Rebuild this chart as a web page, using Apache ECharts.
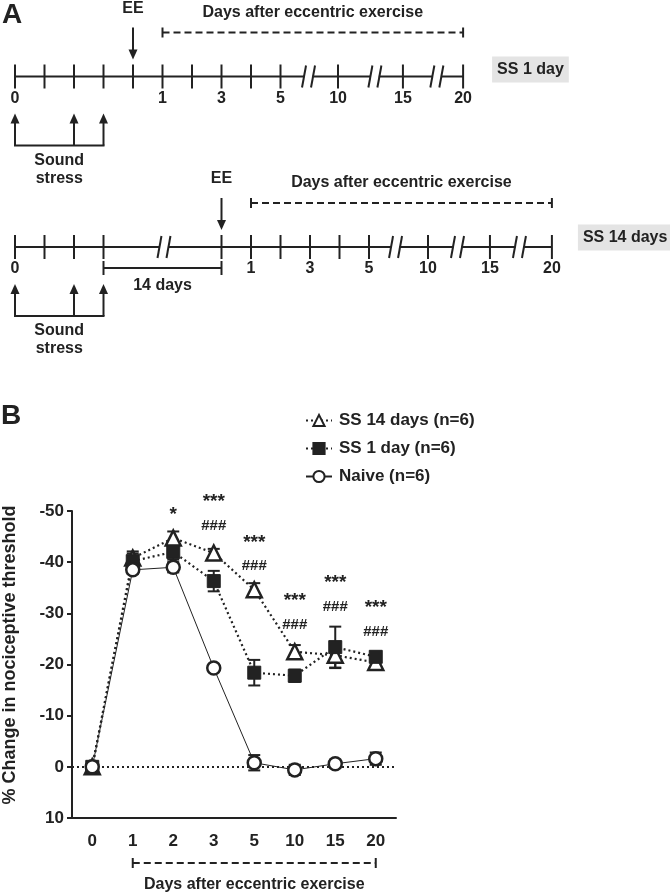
<!DOCTYPE html>
<html><head><meta charset="utf-8">
<script src="https://cdn.jsdelivr.net/npm/echarts@6/dist/echarts.min.js"></script>
<style>html,body{margin:0;padding:0;background:#fff}#main{width:670px;height:894px}</style>
</head><body><div id="main"></div>
<script>
const FONT = '"Liberation Sans", Arial, Helvetica, sans-serif';
const INK = '#222';

// ---------- Panel B data ----------
const days = ['0', '1', '2', '3', '5', '10', '15', '20'];
const ss14Mean = [0, -40.8, -44.7, -41.8, -34.6, -22.5, -21.8, -20.4];
const ss14Err  = [0.8, 1.3, 1.3, 0.8, 1.3, 1.3, 2.5, 0.8];
const ss1Mean  = [0, -40.2, -42.0, -36.3, -18.4, -17.8, -23.4, -21.5];
const ss1Err   = [0.8, 1.5, 1.5, 2.0, 2.5, 1.2, 4.0, 1.0];
const naiveMean = [0, -38.5, -39.0, -19.3, -0.8, 0.6, -0.6, -1.6];
const naiveErr  = [1.0, 0.8, 1.0, 0.7, 1.5, 1.0, 0.8, 1.2];
const starText = ['', '', '*', '***', '***', '***', '***', '***'];
const starPos  = [null, null, -50.0, -52.5, -44.5, -33.2, -36.7, -31.8];
const hashText = ['', '', '', '###', '###', '###', '###', '###'];
const hashPos  = [null, null, null, -47.0, -39.3, -27.7, -31.2, -26.4];
const zeroLine = [0];
const seriesNames = ['SS 14 days (n=6)', 'SS 1 day (n=6)', 'Naive (n=6)'];

// ---------- Panel A timeline layout (slot units) ----------
const tlLabels = ['0', '', '', '', '', '1', '', '3', '', '5', '10', '15', '20'];
const tl1Ticks = [0, 1, 2, 3, 4, 5, 6, 7, 8, 9, 10.95, 13.15, 15.19];
const tl1Breaks = [9.95, 12.2, 14.3];
const tl2Ticks = [0, 1, 2, 3, 7, 8, 9, 10, 11, 12, 14, 16.1, 18.2];
const tl2Breaks = [5.05, 12.9, 15.0, 17.1];
const stressSlots = [0, 2, 3];
const tlTags = ['SS 1 day', 'SS 14 days'];

const timelines = [
  {base: 76.5, ticks: tl1Ticks, breaks: tl1Breaks, ee: tl1Ticks[4], tag: tlTags[0], boxGap: 29, boxDy: -7, gapLabel: null},
  {base: 247, ticks: tl2Ticks, breaks: tl2Breaks, ee: tl2Ticks[4], tag: tlTags[1], boxGap: 26, boxDy: -9.5, gapLabel: '14 days'}
];

function renderTimeline(params, api) {
  const t = timelines[params.dataIndex];
  const X = s => api.coord([s, 0])[0];
  const by = api.coord([0, t.base])[1];
  const kids = [];
  const line = (x1, y1, x2, y2, extra) => kids.push({type: 'line', shape: {x1, y1, x2, y2},
    style: Object.assign({stroke: INK, lineWidth: 2}, extra || {})});
  const text = (x, y, s, extra) => kids.push({type: 'text', x, y,
    style: Object.assign({text: s, font: 'bold 16px ' + FONT, fill: INK, align: 'center', verticalAlign: 'middle'}, extra || {})});
  const tri = (x, tipY, dir) => kids.push({type: 'polygon',
    shape: {points: [[x, tipY], [x - 4.5, tipY - dir * 10], [x + 4.5, tipY - dir * 10]]}, style: {fill: INK}});
  const x0 = X(t.ticks[0]), xN = X(t.ticks[t.ticks.length - 1]);
  let cur = x0;
  t.breaks.forEach(b => {
    const cx = X(b);
    line(cur, by, cx - 4, by);
    cur = cx + 4;
    line(cx - 6.5, by + 11, cx - 2.5, by - 11);
    line(cx + 2.5, by + 11, cx + 6.5, by - 11);
  });
  line(cur, by, xN, by);
  t.ticks.forEach((s, i) => {
    const x = X(s);
    line(x, by - 12, x, by + 12);
    if (tlLabels[i]) text(x, by + 22, tlLabels[i]);
  });
  const xe = X(t.ee);
  text(xe, by - 68, 'EE');
  line(xe, by - 49, xe, by - 25);
  tri(xe, by - 17, 1);
  const xd1 = X(t.ticks[5]), yd = by - 44;
  line(xd1, yd, xN, yd, {lineDash: [7, 4]});
  line(xd1, yd - 5, xd1, yd + 5);
  line(xN, yd - 5, xN, yd + 5);
  text((xd1 + xN) / 2, by - 64, 'Days after eccentric exercise');
  text(xN + t.boxGap, by + t.boxDy, t.tag, {align: 'left', backgroundColor: '#e4e4e4', padding: [5, 5, 5, 5]});
  const ys = by + 69;
  stressSlots.forEach(s => { const x = X(s); line(x, ys, x, by + 45); tri(x, by + 37, -1); });
  const xs0 = X(stressSlots[0]), xs1 = X(stressSlots[stressSlots.length - 1]);
  line(xs0 - 1, ys, xs1 + 1, ys);
  text((xs0 + xs1) / 2, by + 84, 'Sound');
  text((xs0 + xs1) / 2, by + 102, 'stress');
  if (t.gapLabel) {
    const a = X(t.ticks[3]), yg = by + 21;
    line(a, yg, xe, yg); line(a, yg - 7, a, yg + 7); line(xe, yg - 7, xe, yg + 7);
    text((a + xe) / 2, by + 39, t.gapLabel);
  }
  return {type: 'group', children: kids};
}

function errorBars(means, errs) {
  return {
    type: 'custom', xAxisIndex: 0, yAxisIndex: 0, silent: true, z: 3,
    data: means.map((m, i) => [i, m - errs[i], m + errs[i]]),
    renderItem: (params, api) => {
      const i = api.value(0);
      const a = api.coord([i, api.value(1)]);
      const b = api.coord([i, api.value(2)]);
      const hw = 6;
      const st = {stroke: INK, lineWidth: 2};
      return {type: 'group', children: [
        {type: 'line', shape: {x1: a[0], y1: a[1], x2: b[0], y2: b[1]}, style: st},
        {type: 'line', shape: {x1: a[0] - hw, y1: a[1], x2: a[0] + hw, y2: a[1]}, style: st},
        {type: 'line', shape: {x1: b[0] - hw, y1: b[1], x2: b[0] + hw, y2: b[1]}, style: st}
      ]};
    }
  };
}

function annotations(texts, pos, size, dy) {
  const data = [];
  pos.forEach((p, i) => { if (p !== null) data.push([i, p]); });
  return {
    type: 'custom', xAxisIndex: 0, yAxisIndex: 0, silent: true, z: 5, clip: false,
    data: data,
    renderItem: (params, api) => {
      const i = api.value(0);
      const c = api.coord([i, api.value(1)]);
      return {type: 'text', x: c[0], y: c[1] + dy,
        style: {text: texts[i], font: 'bold ' + size + 'px ' + FONT, fill: INK, align: 'center', verticalAlign: 'middle'}};
    }
  };
}

const chart = echarts.init(document.getElementById('main'));
const option = {
  animation: false,
  backgroundColor: '#fff',
  grid: [
    {left: 72, top: 511, width: 324, height: 307},
    {left: 15, top: 0, width: 590, height: 310}
  ],
  xAxis: [
    {type: 'category', gridIndex: 0, data: days, boundaryGap: true, position: 'bottom',
     axisLine: {onZero: false, lineStyle: {color: INK, width: 2}},
     axisTick: {alignWithLabel: true, length: 4, lineStyle: {color: INK, width: 2}},
     axisLabel: {color: INK, fontWeight: 'bold', fontSize: 17, fontFamily: FONT, margin: 15}},
    {type: 'value', gridIndex: 1, min: 0, max: 20, show: false}
  ],
  yAxis: [
    {type: 'value', gridIndex: 0, inverse: true, min: -50, max: 10, interval: 10,
     axisLine: {show: true, onZero: false, lineStyle: {color: INK, width: 2}},
     axisTick: {show: true, length: 5, lineStyle: {color: INK, width: 2}},
     splitLine: {show: false},
     axisLabel: {color: INK, fontWeight: 'bold', fontSize: 17, fontFamily: FONT, margin: 8}},
    {type: 'value', gridIndex: 1, min: 0, max: 310, inverse: true, show: false}
  ],
  legend: {
    data: seriesNames, orient: 'vertical', left: 300, top: 407, itemWidth: 26, itemHeight: 14, itemGap: 11,
    textStyle: {color: INK, fontWeight: 'bold', fontSize: 17, fontFamily: FONT, padding: [0, 0, 0, 2]}
  },
  graphic: [
    {type: 'text', left: 2, top: 1, style: {text: 'A', font: 'bold 28px ' + FONT, fill: INK}},
    {type: 'text', left: 1, top: 402, style: {text: 'B', font: 'bold 28px ' + FONT, fill: INK}},
    {type: 'text', x: 10, y: 655, rotation: Math.PI / 2,
     style: {text: '% Change in nociceptive threshold', font: 'bold 18px ' + FONT, fill: INK, align: 'center', verticalAlign: 'middle'}}
  ],
  series: [
    {type: 'custom', xAxisIndex: 0, yAxisIndex: 0, silent: true, z: 1, data: zeroLine.map(v => [v]),
     renderItem: (params, api) => {
       const v = api.value(0);
       const a = api.coord([0, v]);
       const cs = params.coordSys;
       const y = Math.round(a[1]);
       return {type: 'line', shape: {x1: cs.x, y1: y, x2: cs.x + cs.width, y2: y},
         style: {stroke: INK, lineWidth: 2, lineDash: [2, 3]}};
     }},
    errorBars(ss14Mean, ss14Err),
    {name: seriesNames[0], type: 'line', data: ss14Mean, z: 3, symbol: 'triangle', symbolSize: 15,
     itemStyle: {color: '#fff', borderColor: INK, borderWidth: 2.5},
     lineStyle: {color: INK, width: 2.2, type: [2, 3]}},
    errorBars(ss1Mean, ss1Err),
    {name: seriesNames[1], type: 'line', data: ss1Mean, z: 3, symbol: 'rect', symbolSize: 13,
     itemStyle: {color: INK, borderColor: INK, borderWidth: 1},
     lineStyle: {color: INK, width: 2.2, type: [2, 3]}},
    errorBars(naiveMean, naiveErr),
    {name: seriesNames[2], type: 'line', data: naiveMean, z: 3, symbol: 'circle', symbolSize: 13,
     itemStyle: {color: '#fff', borderColor: INK, borderWidth: 2.5},
     lineStyle: {color: INK, width: 1}},
    annotations(starText, starPos, 19, 4),
    annotations(hashText, hashPos, 15, 0),
    {type: 'custom', xAxisIndex: 0, yAxisIndex: 0, silent: true, clip: false, data: [[1, 7]],
     renderItem: (params, api) => {
       const a = api.coord([api.value(0), 10]);
       const b = api.coord([api.value(1), 10]);
       const y = a[1] + 45;
       const st = {stroke: INK, lineWidth: 2};
       return {type: 'group', children: [
         {type: 'line', shape: {x1: a[0], y1: y, x2: b[0], y2: y}, style: {stroke: INK, lineWidth: 2, lineDash: [7, 4]}},
         {type: 'line', shape: {x1: a[0], y1: y - 5, x2: a[0], y2: y + 5}, style: st},
         {type: 'line', shape: {x1: b[0], y1: y - 5, x2: b[0], y2: y + 5}, style: st},
         {type: 'text', x: (a[0] + b[0]) / 2, y: y + 22,
          style: {text: 'Days after eccentric exercise', font: 'bold 16px ' + FONT, fill: INK, align: 'center', verticalAlign: 'middle'}}
       ]};
     }},
    {type: 'custom', xAxisIndex: 1, yAxisIndex: 1, silent: true, clip: false, data: [[0, 0], [0, 0]],
     renderItem: renderTimeline}
  ]
};
chart.setOption(option);
</script></body></html>
